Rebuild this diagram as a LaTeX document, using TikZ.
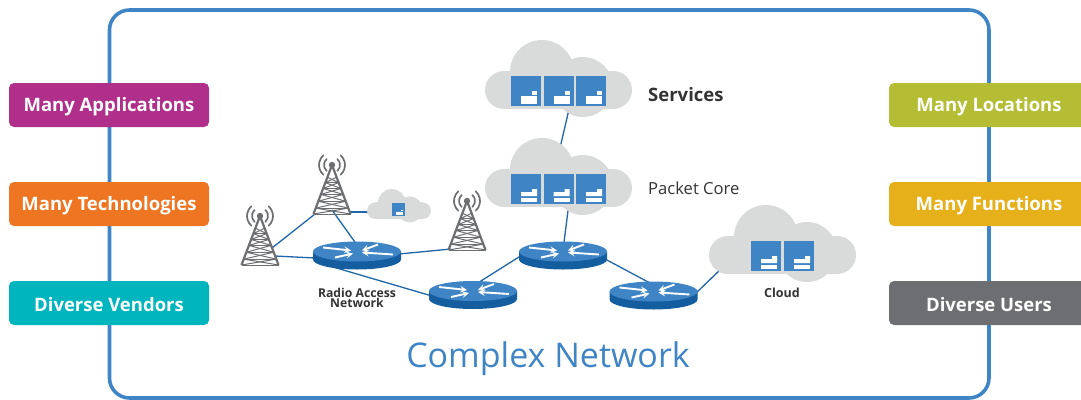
\documentclass[tikz,border=0pt]{standalone}
\usepackage{fontspec}
\setmainfont{Open Sans}
\definecolor{frameblue}{HTML}{3F85C6}
\definecolor{linkblue}{HTML}{1F66A8}
\definecolor{routerside}{HTML}{145E9F}
\definecolor{cloudgray}{HTML}{D9DADA}
\definecolor{towergray}{HTML}{6D6E71}
\definecolor{labeltext}{HTML}{333333}
\definecolor{tagapps}{HTML}{AF2F8B}
\definecolor{tagtech}{HTML}{EE7623}
\definecolor{tagvendors}{HTML}{00B5BD}
\definecolor{taglocations}{HTML}{B5BD35}
\definecolor{tagfunctions}{HTML}{E6B01B}
\tikzset{
    tagbox/.style={rounded corners=5pt, minimum width=200pt, minimum height=44pt, inner sep=0pt, text height=16pt, text depth=4pt, text=white, font=\fontsize{18.5}{20}\selectfont\bfseries},
    lowtag/.style={tagbox, text height=20pt},
    link/.style={draw=linkblue, line width=1.3pt},
    cloudshape/.pic={
        \fill[cloudgray] (-54.5,-19) circle (19);
        \fill[cloudgray] (54.5,-19) circle (19);
        \fill[cloudgray] (-16.5,-37) circle (32);
        \fill[cloudgray] (24.5,-22) circle (30);
        \fill[cloudgray] (-54.5,-38) rectangle (54.5,0);
    },
    servera/.pic={
        \fill[frameblue] (0,0) rectangle (30,30);
        \fill[white] (10,20) rectangle (26,28);
        \fill[white] (21,15) rectangle (26,19);
    },
    serverb/.pic={
        \fill[frameblue] (0,0) rectangle (30,30);
        \fill[white] (10,24) rectangle (26,28);
        \fill[white] (10,18) -- (21,18) -- (21,15) -- (26,15) -- (26,22) -- (10,22) -- cycle;
    },
    router/.pic={
        \fill[routerside] (-44,0) -- (-44,8) arc (180:0:44 and 10) -- (44,0) -- cycle;
        \fill[frameblue] (0,0) ellipse (44 and 10);
        \draw[white, line width=1.9pt, -stealth] (-34,-4) -- (-6,-1);
        \draw[white, line width=1.9pt, -stealth] (-22,6) -- (-4,2);
        \draw[white, line width=1.9pt, -stealth] (21,-7) -- (5,-1);
        \draw[white, line width=1.9pt, -stealth] (36,3) -- (5,1);
    },
    tower/.pic={
        \draw[towergray, line width=2.2pt] (-18.5,49) -- (0,0) -- (18.5,49);
        \foreach \a/\b in {.25/.36,.36/.48,.48/.6,.6/.74,.74/.88,.88/1}{
            \draw[towergray, line width=1pt] (-18.5*\a,49*\a) -- (18.5*\b,49*\b);
            \draw[towergray, line width=1pt] (18.5*\a,49*\a) -- (-18.5*\b,49*\b);
            \draw[towergray, line width=1pt] (-18.5*\b,49*\b) -- (18.5*\b,49*\b);
        }
        \fill[towergray] (0,0) circle (3.2);
        \foreach \r in {8,13}{
            \draw[towergray, line width=1.7pt, line cap=round] (48:\r) arc (48:-48:\r);
            \draw[towergray, line width=1.7pt, line cap=round] (132:\r) arc (132:228:\r);
        }
    }
}
\begin{document}
\begin{tikzpicture}[x=1pt,y=-1pt]
    \useasboundingbox (0,0) rectangle (1081,399);

    \draw[frameblue, line width=3.6pt, rounded corners=20pt] (109.5,10) rectangle (989,398);

    % tags on both sides
    \node[tagbox, fill=tagapps] (tagApps) at (109,105) {Many Applications};
    \node[tagbox, fill=tagtech] (tagTech) at (109,204) {Many Technologies};
    \node[lowtag, fill=tagvendors] (tagVendors) at (109,303) {Diverse Vendors};
    \node[tagbox, fill=taglocations] (tagLocations) at (989,105) {Many Locations};
    \node[tagbox, fill=tagfunctions] (tagFunctions) at (989,204) {Many Functions};
    \node[lowtag, fill=towergray] (tagUsers) at (989,303) {Diverse Users};

    % link ends
    \coordinate (servicesOut) at (570,105);
    \coordinate (coreIn) at (560,148);
    \coordinate (coreOut) at (569,203);
    \coordinate (rtrCUp) at (563,250);
    \coordinate (rtrCLeft) at (530,250);
    \coordinate (rtrCRight) at (605,259);
    \coordinate (rtrBUp) at (473,286);
    \coordinate (rtrBLeft) at (432,296);
    \coordinate (rtrDUp) at (650,283);
    \coordinate (rtrDRight) at (695,294);
    \coordinate (cloudIn) at (721,269);
    \coordinate (rtrAUp) at (357,245);
    \coordinate (rtrALeft) at (315,258);
    \coordinate (rtrARight) at (399,254);
    \coordinate (rtrADown) at (333,267);
    \coordinate (towerLeftUp) at (272,248);
    \coordinate (towerLeftOut) at (275,256);
    \coordinate (towerMidLeft) at (315,214);
    \coordinate (towerMidDown) at (332,210);
    \coordinate (towerMidRight) at (350,212);
    \coordinate (smallCloudIn) at (369,212);
    \coordinate (towerRightIn) at (451,249);

    \draw[link] (servicesOut) -- (coreIn);
    \draw[link] (coreOut) -- (rtrCUp);
    \draw[link] (rtrCRight) -- (rtrDUp);
    \draw[link] (rtrDRight) -- (cloudIn);
    \draw[link] (rtrBUp) -- (rtrCLeft);
    \draw[link] (rtrADown) -- (rtrBLeft);
    \draw[link] (rtrARight) -- (towerRightIn);
    \draw[link] (towerLeftOut) -- (rtrALeft);
    \draw[link] (towerLeftUp) -- (towerMidLeft);
    \draw[link] (towerMidDown) -- (rtrAUp);
    \draw[link] (towerMidRight) -- (smallCloudIn);

    % clouds
    \pic at (558.5,109) {cloudshape};
    \pic at (558.5,207) {cloudshape};
    \pic at (782.5,274) {cloudshape};
    \pic[scale=.435] at (399,219) {cloudshape};

    \foreach \x in {511,543.5,576}{
        \pic at (\x,76) {servera};
        \pic at (\x,174) {serverb};
    }
    \pic at (751,241) {serverb};
    \pic at (784,241) {serverb};
    \pic[scale=.435] at (392,203) {servera};

    % routers
    \pic at (357,251.5) {router};
    \pic at (473,291) {router};
    \pic at (563,251.5) {router};
    \pic at (653.5,291.5) {router};

    % towers
    \pic at (260,216) {tower};
    \pic at (332,165) {tower};
    \pic at (467,201) {tower};

    % labels
    \node[anchor=west, inner sep=0pt, text=labeltext, font=\fontsize{18.5}{20}\selectfont\bfseries] (labelServices) at (648,95) {Services};
    \node[anchor=west, inner sep=0pt, text=labeltext, font=\fontsize{16.6}{18}\selectfont] (labelCore) at (648,188.5) {Packet Core};
    \node[align=center, text=labeltext, font=\fontsize{12.2}{10.5}\selectfont\bfseries] (labelRadio) at (357,298) {Radio Access\\Network};
    \node[text=labeltext, font=\fontsize{12.5}{12}\selectfont\bfseries] (labelCloud) at (782,293) {Cloud};
    \node[text=frameblue, font=\fontsize{34}{36}\selectfont] (labelNetwork) at (548,359) {Complex Network};
\end{tikzpicture}
\end{document}
